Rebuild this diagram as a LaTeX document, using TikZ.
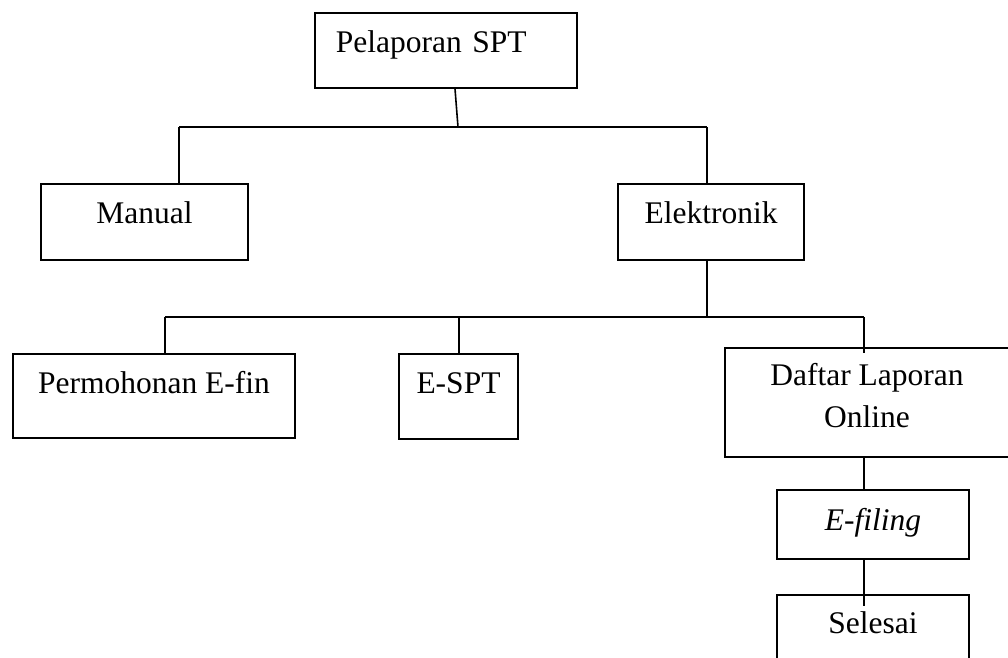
\documentclass[tikz,border=0pt]{standalone}
\usepackage{fontspec}
\setmainfont{Liberation Serif}
\usepackage{tikz}
\usetikzlibrary{positioning}

\tikzset{
    kotak/.style={draw, line width=1.8pt, inner sep=0pt, anchor=north,
        text height=40pt, font=\fontsize{31.5}{42}\selectfont},
    garis/.style={line width=1.6pt}
}

\begin{document}
\begin{tikzpicture}[x=1pt, y=-1pt]
    \useasboundingbox (0,0) rectangle (1008,657);

    % Top box
    \node[kotak, anchor=north west, inner xsep=21pt, text width=220pt, align=left, text depth=35pt] (lapor) at (314,12) {Pelaporan SPT};

    % First level
    \node[kotak, minimum width=207pt, text depth=36pt] (manual) at (144.5,183) {Manual};
    \node[kotak, minimum width=186pt, text depth=36pt] (elektronik) at (711,183) {Elektronik};

    % Second level
    \node[kotak, minimum width=282pt, text depth=44pt] (efin) at (154,353) {Permohonan E-fin};
    \node[kotak, minimum width=119pt, text depth=45pt] (espt) at (458.5,353) {E-SPT};
    \node[kotak, minimum width=284pt, text height=80pt, text depth=29pt, align=center] (daftar) at (867,347) {Daftar Laporan\\Online};

    % Online chain
    \node[kotak, minimum width=192pt, text height=41pt, text depth=28pt] (efiling) at (873,489) {\textit{E-filing}};
    \node[kotak, minimum width=192pt, text height=39pt, text depth=70pt] (selesai) at (873,594) {Selesai};

    % Branch points
    \coordinate (b1atas) at (458,127);
    \coordinate (b1kiri) at (179,127);
    \coordinate (b1kanan) at (707,127);
    \coordinate (b2kiri) at (165,317);
    \coordinate (b2tengah) at (459,317);
    \coordinate (b2kanan) at (864,317);

    % Connectors, first level
    \draw[garis] ([xshift=141pt]lapor.south west) -- (b1atas);
    \draw[garis] (b1kiri) -- (b1kanan);
    \draw[garis] (b1kiri) -- (b1kiri |- manual.north);
    \draw[garis] (b1kanan) -- (b1kanan |- elektronik.north);

    % Connectors, second level
    \draw[garis] (b1kanan |- elektronik.south) -- (b1kanan |- b2kiri);
    \draw[garis] (b2kiri) -- (b2kanan);
    \draw[garis] (b2kiri) -- (b2kiri |- efin.north);
    \draw[garis] (b2tengah) -- (b2tengah |- espt.north);
    \draw[garis] (b2kanan) -- ([yshift=-6pt]b2kanan |- daftar.north);

    % Connectors, online chain
    \draw[garis] (b2kanan |- daftar.south) -- (b2kanan |- efiling.north);
    \draw[garis] (b2kanan |- efiling.south) -- ([yshift=-12pt]b2kanan |- selesai.north);
\end{tikzpicture}
\end{document}
